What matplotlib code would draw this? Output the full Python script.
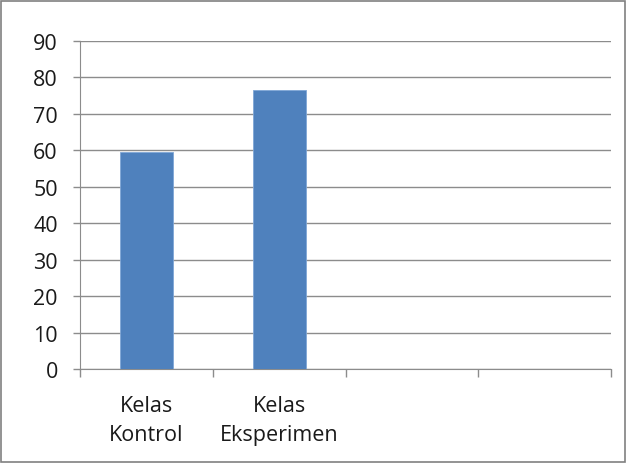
import matplotlib.pyplot as plt
from matplotlib.patches import Rectangle

# data
categories = ["Kelas\nKontrol", "Kelas\nEksperimen", "", ""]
values = [59.6, 76.5, None, None]
y_ticks = list(range(0, 100, 10))

W, H = 627, 464
fig = plt.figure(figsize=(W / 100, H / 100), dpi=100)
ax = fig.add_axes([80 / W, 1 - 370 / H, (611 - 80) / W, (370 - 42) / H])

grey = "#8c8c8c"
font = "Open Sans"
fs = 15.5

xs = list(range(len(categories)))
for x, v in zip(xs, values):
    if v is not None:
        ax.bar(x, v, width=0.4, color="#4f81bd", edgecolor="#7fa6d6", linewidth=0.6, zorder=3)

ax.set_xlim(-0.5, len(categories) - 0.5)
ax.set_ylim(0, 90)
ax.set_yticks(y_ticks)
ax.yaxis.grid(True, color=grey, linewidth=1)
ax.set_axisbelow(True)

# category labels centered, ticks between categories
ax.set_xticks(xs)
ax.set_xticklabels(categories, fontsize=fs, fontfamily=font, color="#1a1a1a", linespacing=1.45)
ax.set_xticks([x - 0.5 for x in xs] + [len(xs) - 0.5], minor=True)
ax.tick_params(axis="x", which="major", length=0, pad=19)
ax.tick_params(axis="x", which="minor", length=6, color=grey, width=1)
ax.tick_params(axis="y", length=5, color=grey, width=1, labelsize=fs, pad=11, labelcolor="#1a1a1a")
for lab in ax.get_yticklabels():
    lab.set_fontfamily(font)

for s in ["top", "right"]:
    ax.spines[s].set_visible(False)
ax.spines["left"].set_color(grey)
ax.spines["bottom"].set_color(grey)

# outer chart border
fig.patches.append(Rectangle((1 / W, 1 / H), 1 - 3 / W, 1 - 3 / H, transform=fig.transFigure,
                             fill=False, edgecolor="#808080", linewidth=1.2))

fig.savefig("out.png", dpi=100)
